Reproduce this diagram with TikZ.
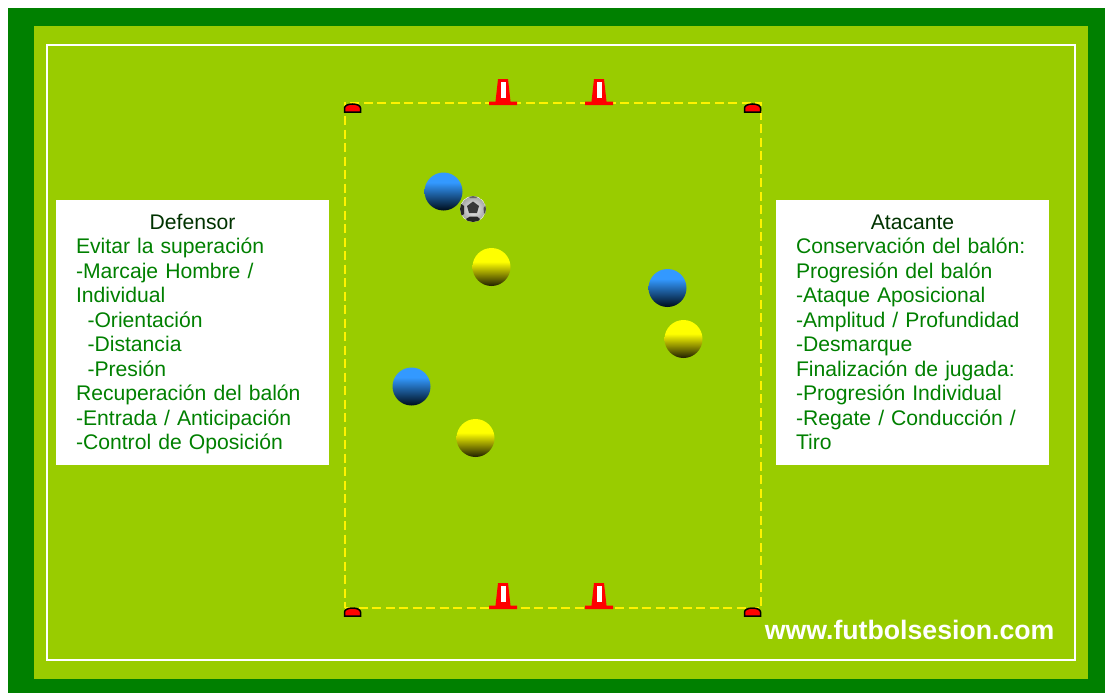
\documentclass[tikz,border=0pt]{standalone}
\usepackage{fontspec}
\setmainfont{Liberation Sans}
\usetikzlibrary{positioning}
\definecolor{darkfield}{HTML}{008000}
\definecolor{lightfield}{HTML}{99CC00}
\definecolor{titlegreen}{HTML}{003300}
\definecolor{topblue}{HTML}{3399FF}
\definecolor{lowblue}{HTML}{001020}
\definecolor{lowyellow}{HTML}{262600}
\pgfdeclareverticalshading{bluefade}{100bp}{
    color(0bp)=(lowblue); color(26bp)=(lowblue); color(62bp)=(topblue); color(100bp)=(topblue)}
\pgfdeclareverticalshading{yellowfade}{100bp}{
    color(0bp)=(lowyellow); color(26bp)=(lowyellow); color(57bp)=(yellow); color(100bp)=(yellow)}
\newcommand{\toprow}{\rule{0pt}{21.2pt}}
\tikzset{
    ground/.style = {
        shape=rectangle,
        inner sep=0pt,
        anchor=north west
    },
    player/.style = {
        shape=circle,
        minimum size=38pt,
        inner sep=0pt
    },
    defender/.style = {
        player,
        shading=bluefade
    },
    attacker/.style = {
        player,
        shading=yellowfade
    },
    notes/.style = {
        shape=rectangle,
        fill=white,
        text=darkfield,
        minimum width=273pt,
        minimum height=265pt,
        inner xsep=20pt,
        inner ysep=0pt,
        text width=233pt,
        font=\fontsize{21.15}{24.5}\selectfont
    },
    corner/.pic = {
        \draw[fill=red, line width=1.5pt] (-8,0) -- (-8,-4) arc[start angle=180, end angle=360, x radius=8, y radius=4] -- (8,0) -- cycle;
    },
    cone/.pic = {
        \fill[red] (-14,0) -- (-14,-3.5) -- (-7.5,-3.5) -- (-5,-26) -- (5,-26) -- (7.5,-3.5) -- (14,-3.5) -- (14,0) -- cycle;
        \fill[white] (-2.5,-23) rectangle (2.5,-7);
    },
}

\begin{document}
\begin{tikzpicture}[x=1pt, y=-1pt]
    \useasboundingbox (0,0) rectangle (1105,693);
    \node[ground, fill=darkfield, minimum width=1097pt, minimum height=685pt] (outer) at (8,8) {};
    \node[ground, fill=lightfield, minimum width=1054pt, minimum height=653pt] (inner) at (34,26) {};
    \node[ground, draw=white, line width=2pt, minimum width=1028pt, minimum height=615pt] (lines) at (46,44) {};
    \node[ground, draw=yellow, line width=2pt, dash pattern=on 9pt off 4.5pt, minimum width=416pt, minimum height=505pt] (grid) at (344,102) {};

    % markers
    \pic at (352.5,112) {corner};
    \pic at (752.5,112) {corner};
    \pic at (352.5,616) {corner};
    \pic at (752.5,616) {corner};
    \pic at (503,105) {cone};
    \pic at (599,105) {cone};
    \pic at (503,609) {cone};
    \pic at (599,609) {cone};

    \node[defender] (blueA)   at (443.5, 191.5) {};
    \node[defender] (blueB)   at (667.5, 288)   {};
    \node[defender] (blueC)   at (411.5, 386.5) {};
    \node[attacker] (yellowA) at (491.5, 267)   {};
    \node[attacker] (yellowB) at (683.5, 339)   {};
    \node[attacker] (yellowC) at (475.5, 438)   {};

    % ball
    \begin{scope}
        \path[clip] (473,209) circle (13);
        \fill[white] (473,209) circle (13);
        \shade[inner color=black!5, outer color=black!35] (473,209) circle (12.5);
        \fill[black!78] (473,201.5) -- (479,206) -- (477,213) -- (469,213) -- (467,206) -- cycle;
        \fill[black!85] (460,203) -- (464,206) -- (464,214) -- (460,217) -- cycle;
        \fill[black!85] (466,219) -- (470,216.5) -- (477,216.5) -- (480,219) -- (477,223) -- (469,223) -- cycle;
        \fill[black!70] (486,205) -- (483.5,208) -- (484,213) -- (486,215) -- cycle;
        \fill[black!60] (468,196) -- (478,196) -- (476,198) -- (470,198) -- cycle;
    \end{scope}

    \node[notes] (defensor) at (192.5, 332.5) {%
        {\centering\toprow\textcolor{titlegreen}{Defensor}\par}
        Evitar la superación\\
        -Marcaje Hombre /\\
        Individual\\
        \hspace*{11.5pt}-Orientación\\
        \hspace*{11.5pt}-Distancia\\
        \hspace*{11.5pt}-Presión\\
        Recuperación del balón\\
        -Entrada / Anticipación\\
        -Control de Oposición\strut};
    \node[notes] (atacante) at (912.5, 332.5) {%
        {\centering\toprow\textcolor{titlegreen}{Atacante}\par}
        Conservación del balón:\\
        Progresión del balón\\
        -Ataque Aposicional\\
        -Amplitud / Profundidad\\
        -Desmarque\\
        Finalización de jugada:\\
        -Progresión Individual\\
        -Regate / Conducción /\\
        Tiro\strut};

    \node[anchor=base east, inner sep=0pt, text=white, font=\fontsize{26.67}{30}\selectfont\bfseries] (web) at (1054.5, 639) {www.futbolsesion.com};
\end{tikzpicture}
\end{document}
